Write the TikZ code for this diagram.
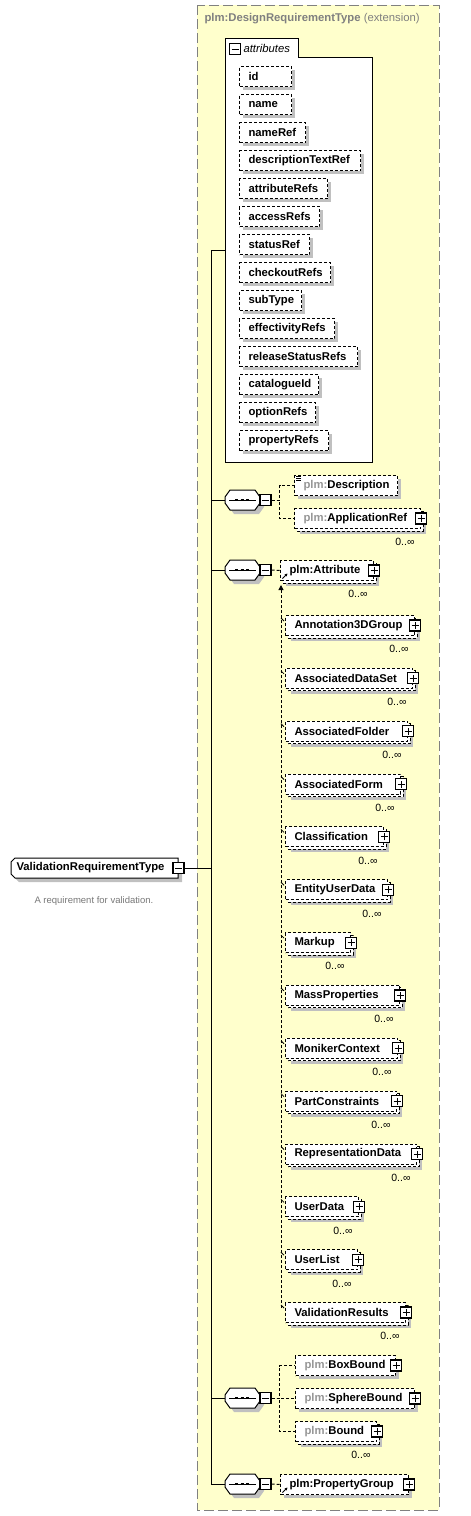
\documentclass[tikz,border=0pt]{standalone}
\usepackage{fontspec}
\setmainfont{Liberation Sans}
\usepackage{tikz}
\usetikzlibrary{arrows.meta}

\definecolor{bgyellow}{RGB}{255,255,204}
\definecolor{shadowgray}{RGB}{192,192,192}
\definecolor{framegray}{RGB}{128,128,128}
\definecolor{prefixgray}{RGB}{150,150,150}
\definecolor{descgray}{RGB}{120,120,120}

\tikzset{
  lbl/.style={font=\fontsize{11.3}{13}\selectfont\bfseries, inner sep=0pt},
  occurs/.style={font=\fontsize{10.5}{12}\selectfont, inner sep=0pt},
  link/.style={dash pattern=on 3pt off 2pt},
  elembox/.style={draw, fill=white, link, minimum height=20pt, inner sep=0pt},
  pm/.style={draw, fill=white, solid, minimum size=11pt, inner sep=0pt, line width=1.2pt},
  plus/.style={pm, path picture={\draw[line width=1pt] ([xshift=2pt]path picture bounding box.west) -- ([xshift=-2pt]path picture bounding box.east) ([yshift=2pt]path picture bounding box.south) -- ([yshift=-2pt]path picture bounding box.north);}},
  minus/.style={pm, path picture={\draw[line width=1pt] ([xshift=2pt]path picture bounding box.west) -- ([xshift=-2pt]path picture bounding box.east);}},
}

% element box: name, x, y, width, label
\newcommand{\elem}[5]{%
  \fill[shadowgray] (#2+4,#3+4) rectangle (#2+#4+4,#3+24);
  \node[elembox, minimum width=#4, anchor=north west] (#1) at (#2,#3) {};
  \node[lbl, anchor=west] (#1t) at ([xshift=9pt]#1.west) {#5};
}
% element with many occurrences
\newcommand{\multielem}[5]{%
  \fill[shadowgray] (#2+6,#3+6) rectangle (#2+#4+6,#3+26);
  \draw[link, fill=white] (#2+3,#3+3) rectangle (#2+#4+3,#3+23);
  \node[elembox, minimum width=#4, anchor=north west] (#1) at (#2,#3) {};
  \node[lbl, anchor=west] (#1t) at ([xshift=9pt]#1.west) {#5};
  \node[plus] (#1p) at (#1.east) {};
  \node[occurs, anchor=north east] (#1o) at ([xshift=-6pt,yshift=-9pt]#1.south east) {0..∞};
}
% sequence compositor: name, y
\newcommand{\seqcomp}[2]{%
  \path[fill=shadowgray, shift={(4,4)}] (225,#2-3) -- (230,#2-10) -- (255,#2-10) -- (260,#2-3) -- (260,#2+3) -- (255,#2+10) -- (230,#2+10) -- (225,#2+3) -- cycle;
  \draw[fill=white] (225,#2-3) -- (230,#2-10) -- (255,#2-10) -- (260,#2-3) -- (260,#2+3) -- (255,#2+10) -- (230,#2+10) -- (225,#2+3) -- cycle;
  \draw (229,#2) -- (256,#2);
  \draw[line width=2.5pt, dash pattern=on 3pt off 2.5pt] (235,#2) -- (249,#2);
  \coordinate (#1) at (225,#2);
  \node[minus] (#1m) at (265.5,#2) {};
}
\newcommand{\pfx}{{\color{prefixgray}plm:}}

\begin{document}
\begin{tikzpicture}[x=1pt, y=-1pt, line width=1pt]
\useasboundingbox (0,0) rectangle (471,1516);

% extension frame
\draw[framegray, dash pattern=on 10pt off 4pt, fill=bgyellow] (197,5) rectangle (439,1510);
\node[anchor=west, inner sep=0pt, text=framegray, font=\fontsize{11.3}{13}\selectfont] (ext) at (204,19) {\textbf{plm:DesignRequirementType} (extension)};

% attributes
\draw[fill=white] (225,38) -- (298,38) -- (298,57) -- (372,57) -- (372,462) -- (225,462) -- cycle;
\coordinate (attrs) at (225,250);
\node[minus] (attm) at (235,49) {};
\node[anchor=west, inner sep=0pt, font=\fontsize{11.3}{13}\selectfont\itshape] (att) at (243,48) {attributes};
\foreach \lab/\w [count=\i from 0] in {id/52, name/52, nameRef/66, descriptionTextRef/121, attributeRefs/88, accessRefs/80, statusRef/70, checkoutRefs/91, subType/62, effectivityRefs/95, releaseStatusRefs/118, catalogueId/79, optionRefs/76, propertyRefs/89}
  \elem{a\i}{239}{66+28*\i}{\w}{\lab};

% main type
\path[fill=shadowgray, shift={(4,4)}] (15,858) -- (178,858) -- (178,878) -- (15,878) -- (11,874) -- (11,862) -- cycle;
\draw[fill=white] (15,858) -- (178,858) -- (178,878) -- (15,878) -- (11,874) -- (11,862) -- cycle;
\node[lbl, anchor=west] (vrt) at (16,868) {ValidationRequirementType};
\node[minus] (vrtm) at (178.5,868) {};
\node[anchor=west, inner sep=0pt, text=descgray, font=\fontsize{9.5}{11}\selectfont] (vrtd) at (34,901) {A requirement for validation.};

% trunk
\coordinate (trunktop) at (211,250);
\coordinate (trunkbot) at (211,1484);
\draw (trunktop) -- (trunkbot);
\draw (vrtm.east) -- (vrtm.east -| trunktop);
\draw (trunktop) -- (attrs);

% first sequence
\seqcomp{c1}{500}
\elem{desc}{294}{475}{103}{\pfx Description}
\draw[line width=0.8pt] (296,476.5) -- (301,476.5) (296,478.5) -- (301,478.5) (296,480.5) -- (301,480.5);
\multielem{appref}{294}{508}{126}{\pfx ApplicationRef}
\draw[link] (c1m.east) -- ++(8,0) |- (desc.west);
\draw[link] (c1m.east) -- ++(8,0) |- (appref.west);

% second sequence with substitution group
\seqcomp{c2}{570}
\multielem{attr}{280}{560}{93}{plm:Attribute}
\draw[-{Stealth[length=3pt,width=3pt]}] (282.5,578.5) -- (287.5,573.5);
\draw[link] (c2m.east) -- (attr.west);
\coordinate (subtop) at (281,585);
\coordinate (subbot) at (281,1308);
\draw[link, -{Triangle[length=5pt,width=5pt]}] (subbot) -- (subtop);
\foreach \lab/\w [count=\i from 0] in {Annotation3DGroup/129, AssociatedDataSet/127, AssociatedFolder/122, AssociatedForm/115, Classification/98, EntityUserData/102, Markup/65, MassProperties/114, MonikerContext/112, PartConstraints/111, RepresentationData/131, UserData/73, UserList/72, ValidationResults/120}{
  \multielem{m\i}{285}{615+52.85*\i}{\w}{\lab}
  \draw[line width=0.8pt] (m\i.north west -| subtop) ++(0,3) -- ++(3,3);
}

% third sequence
\seqcomp{c3}{1398}
\elem{box}{295}{1355}{100}{\pfx BoxBound}
\node[plus] (boxp) at (box.east) {};
\elem{sph}{295}{1388}{119}{\pfx SphereBound}
\node[plus] (sphp) at (sph.east) {};
\multielem{bnd}{295}{1421}{81}{\pfx Bound}
\draw[link] (c3m.east) -- ++(8,0) |- (box.west);
\draw[link] (c3m.east) -- ++(8,0) |- (sph.west);
\draw[link] (c3m.east) -- ++(8,0) |- (bnd.west);

% fourth sequence
\seqcomp{c4}{1484}
\elem{pg}{280}{1474}{128}{plm:PropertyGroup}
\node[plus] (pgp) at (pg.east) {};
\draw[-{Stealth[length=3pt,width=3pt]}] (282.5,1492.5) -- (287.5,1487.5);
\draw[link] (c4m.east) -- (pg.west);

\foreach \c in {c1,c2,c3,c4}
  \draw (\c -| trunktop) -- (\c);
\end{tikzpicture}
\end{document}
